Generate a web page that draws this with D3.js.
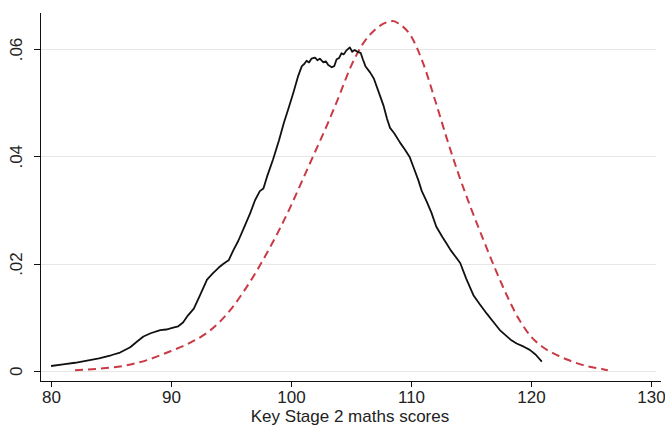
<!DOCTYPE html>
<html>
<head>
<meta charset="UTF-8">
<script src="https://cdn.jsdelivr.net/npm/d3@7"></script>
<style>
    body { margin: 0; background: #fff; }
    .grid line { stroke: #e6e6e6; stroke-width: 1; }
    .axis path, .axis line { stroke: #111; shape-rendering: crispEdges; }
    .axis text { font-family: "Liberation Sans", Arial, sans-serif; font-size: 17px; fill: #222; }
    .title { font-family: "Liberation Sans", Arial, sans-serif; font-size: 17px; fill: #222; }
</style>
</head>
<body>
<div id="chart"></div>
<script>
// tick labels
var xTicks = [80, 90, 100, 110, 120, 130];
var yTicks = [0, 0.02, 0.04, 0.06];
var yTickLabels = ["0", ".02", ".04", ".06"];

// kernel density of actual scores (black solid line)
var actualScore = [80.0, 81.0, 82.0, 83.0, 84.0, 85.0, 85.75, 86.6, 87.2, 87.7, 88.3, 89.1, 89.6, 90.1, 90.6,
    91.0, 91.4, 91.9, 92.4, 93.0, 93.5, 94.0, 94.4, 94.8, 95.2, 95.6, 96.1, 96.6, 97.0, 97.4, 97.7, 98.0,
    98.5, 99.0, 99.4, 99.8, 100.2, 100.6, 100.9, 101.1, 101.3, 101.5, 101.7, 102.0, 102.2, 102.4, 102.7,
    102.9, 103.1, 103.4, 103.6, 103.8, 104.0, 104.2, 104.4, 104.6, 104.9, 105.1, 105.3, 105.6, 105.8,
    106.0, 106.2, 106.6, 106.9, 107.3, 107.7, 108.0, 108.25, 108.6, 109.1, 109.5, 109.9, 110.2, 110.6,
    110.9, 111.3, 111.7, 112.1, 112.6, 113.0, 113.3, 113.7, 114.1, 114.6, 115.2, 115.7, 116.3, 116.9,
    117.4, 117.8, 118.3, 118.8, 119.4, 119.9, 120.4, 120.9];
var actualDensity = [0.0009, 0.0012, 0.0015, 0.0019, 0.0023, 0.0029, 0.0034, 0.0044, 0.0055, 0.0064, 0.0070,
    0.0076, 0.0077, 0.0080, 0.0083, 0.0090, 0.0103, 0.0116, 0.0140, 0.0170, 0.0182, 0.0193, 0.0200, 0.0206,
    0.0225, 0.0242, 0.0268, 0.0294, 0.0318, 0.0335, 0.0340, 0.0362, 0.0394, 0.0430, 0.0462, 0.0490, 0.0519,
    0.0550, 0.0568, 0.0572, 0.0578, 0.0575, 0.0582, 0.0584, 0.0579, 0.0582, 0.0575, 0.0577, 0.0570, 0.0566,
    0.0568, 0.0581, 0.0583, 0.0592, 0.0590, 0.0597, 0.0603, 0.0595, 0.0598, 0.0594, 0.0593, 0.0580, 0.0568,
    0.0556, 0.0545, 0.0520, 0.0495, 0.0470, 0.0453, 0.0443, 0.0425, 0.0412, 0.0398, 0.0380, 0.0356, 0.0335,
    0.0316, 0.0295, 0.0269, 0.0250, 0.0236, 0.0225, 0.0213, 0.0201, 0.0172, 0.0141, 0.0125, 0.0107, 0.0090,
    0.0076, 0.0068, 0.0058, 0.0051, 0.0045, 0.0039, 0.0030, 0.0017];

// comparison density (red dashed line)
var refScore = [82, 84, 86, 88, 90, 91, 92, 93, 94, 95, 96, 97, 98, 99, 100, 101, 102, 103, 104, 105, 106,
    107, 108, 108.5, 109, 110, 111, 112, 113, 114, 115, 116, 117, 118, 119, 120, 121, 122, 123, 124, 125, 126, 126.4];
var refDensity = [0.0001, 0.0004, 0.0009, 0.0020, 0.0037, 0.0046, 0.0057, 0.0071, 0.0090, 0.0115, 0.0146,
    0.0181, 0.0220, 0.0262, 0.0308, 0.0358, 0.0408, 0.0458, 0.0512, 0.0568, 0.0610, 0.0636, 0.0650, 0.0652,
    0.0647, 0.0624, 0.0574, 0.0505, 0.0432, 0.0364, 0.0303, 0.0246, 0.0191, 0.0140, 0.0096, 0.0064, 0.0044,
    0.0031, 0.0021, 0.0013, 0.0007, 0.0003, 0.0001];

var width = 665, height = 434;

var x = d3.scaleLinear().domain([79.08, 130.75]).range([40, 660]);
var y = d3.scaleLinear().domain([-0.0019, 0.0669]).range([381, 12]);

var svg = d3.select("#chart").append("svg")
    .attr("width", width)
    .attr("height", height);

// horizontal grid lines
svg.append("g").attr("class", "grid")
    .selectAll("line").data(yTicks).enter().append("line")
    .attr("x1", 41).attr("x2", 656)
    .attr("y1", function (d) { return Math.round(y(d)) + 0.5; })
    .attr("y2", function (d) { return Math.round(y(d)) + 0.5; });

// x axis
var xAxis = d3.axisBottom(x).tickValues(xTicks).tickSizeInner(6).tickSizeOuter(0).tickPadding(4);
svg.append("g")
    .attr("class", "x axis")
    .attr("transform", "translate(0,381)")
    .call(xAxis);

// y axis, labels rotated as in Stata
var yAxis = d3.axisLeft(y).tickValues(yTicks)
    .tickFormat(function (d, i) { return yTickLabels[i]; })
    .tickSizeInner(6).tickSizeOuter(0);
var gy = svg.append("g")
    .attr("class", "y axis")
    .attr("transform", "translate(40,0)")
    .call(yAxis);
gy.selectAll(".tick text")
    .attr("x", 0).attr("dy", null)
    .attr("transform", "translate(-18,0) rotate(-90)")
    .attr("text-anchor", "middle");

// axis title centred on the plot region
svg.append("text")
    .attr("class", "title")
    .attr("x", d3.mean(x.range()))
    .attr("y", 422)
    .attr("text-anchor", "middle")
    .text("Key Stage 2 maths scores");

var line = d3.line()
    .x(function (d) { return x(d[0]); })
    .y(function (d) { return y(d[1]); });

svg.append("path")
    .datum(d3.zip(refScore, refDensity))
    .attr("d", line.curve(d3.curveMonotoneX))
    .attr("fill", "none")
    .attr("stroke", "#c93a45")
    .attr("stroke-width", 2)
    .attr("stroke-dasharray", "8,5");

svg.append("path")
    .datum(d3.zip(actualScore, actualDensity))
    .attr("d", line.curve(d3.curveLinear))
    .attr("fill", "none")
    .attr("stroke", "#111")
    .attr("stroke-width", 1.8)
    .attr("stroke-linejoin", "round");
</script>
</body>
</html>
